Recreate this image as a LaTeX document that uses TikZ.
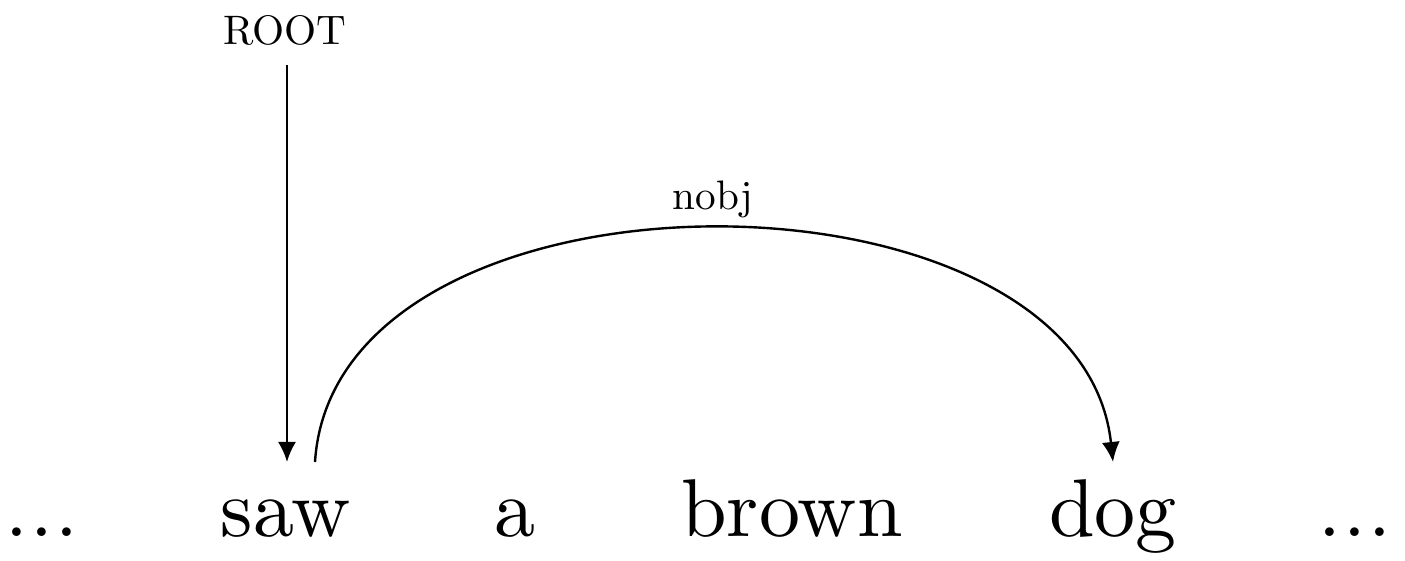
\documentclass[tikz,border=0pt]{standalone}
\usepackage{graphicx}
\usetikzlibrary{arrows.meta,calc}
\newcommand{\bigword}[1]{\scalebox{4.1}{#1}}
\newcommand{\deplabel}[1]{\scalebox{2.06}{#1}}
\begin{document}
\begin{tikzpicture}[x=0.5pt,y=-0.5pt,
  word/.style={inner sep=0pt,anchor=base},
  lab/.style={inner sep=0pt,anchor=base},
  dep/.style={line width=1.2pt,-{Latex[length=10pt,width=9pt]}}]
\useasboundingbox (0,0) rectangle (1405,561);
\node[word] (dl) at (42,537) {\bigword{{.}\kern0.03em{.}\kern0.03em{.}}};
\node[word] (saw) at (286,537) {\bigword{saw}};
\node[word] (a) at (515,537) {\bigword{a}};
\node[word] (brown) at (792,537) {\bigword{brown}};
\node[word] (dog) at (1113,537) {\bigword{dog}};
\node[word] (dr) at (1355,537) {\bigword{{.}\kern0.03em{.}\kern0.03em{.}}};
\node[lab] (root) at (285,45) {\deplabel{ROOT}};
\node[lab] (nobj) at (713,210) {\deplabel{nobj}};
\coordinate (rs) at ($(root.base)+(2,20)$);
\coordinate (rt) at ($(saw.base)+(1,-75)$);
\coordinate (ns) at ($(saw.base)+(29,-75)$);
\coordinate (nt) at ($(dog.base)+(0,-75)$);
\draw[dep] (rs) -- (rt);
\draw[dep] (ns) .. controls ($(ns)+(20,-312)$) and ($(nt)+(-33,-310)$) .. (nt);
\end{tikzpicture}
\end{document}
